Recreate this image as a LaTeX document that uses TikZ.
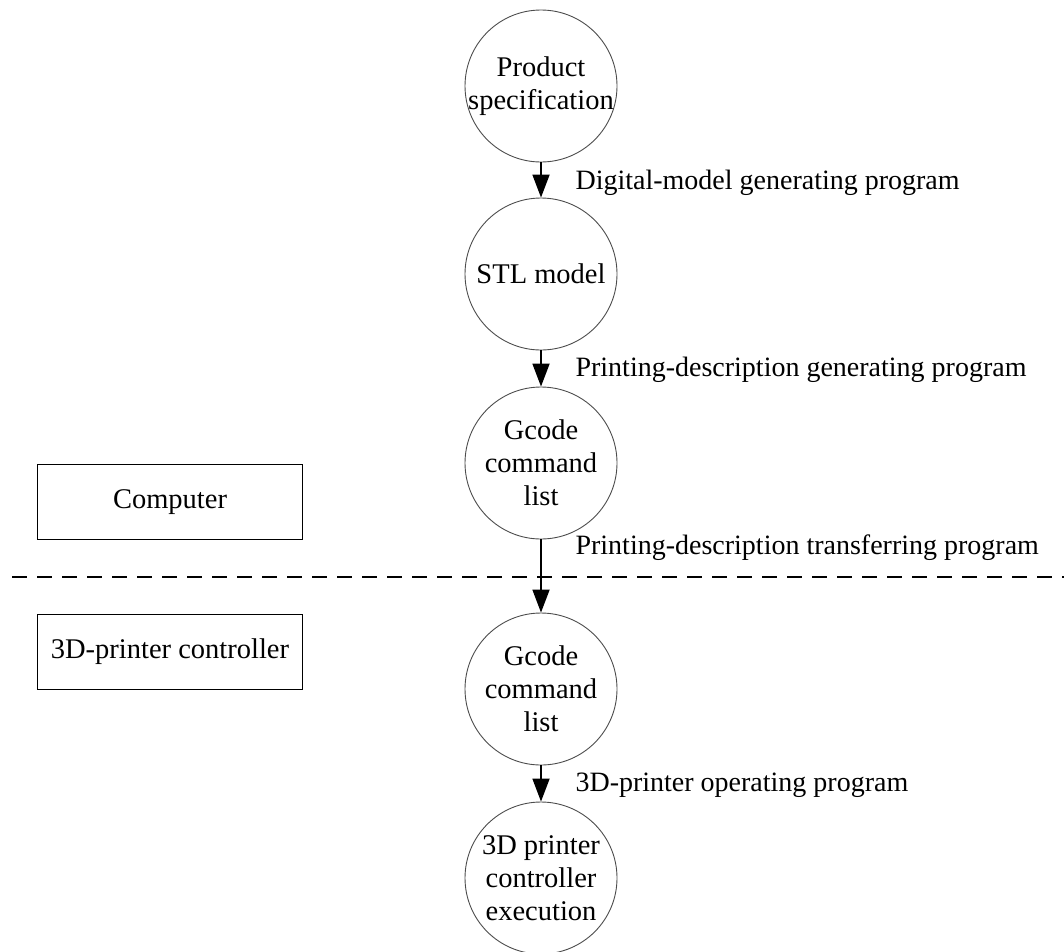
\documentclass[tikz,border=0pt]{standalone}
\usepackage{fontspec}
\setmainfont{Liberation Serif}
\usetikzlibrary{arrows.meta}
\begin{document}
\begin{tikzpicture}[x=1pt,y=-1pt,
  stage/.style={circle,draw=black!70,line width=0.9pt,minimum size=152pt,inner sep=0pt},
  stagetext/.style={align=center,inner sep=0pt,font=\fontsize{28.5}{33}\selectfont},
  sidebox/.style={rectangle,draw=black,line width=1.8pt,minimum width=265pt,minimum height=75pt,
    font=\fontsize{28.5}{33}\selectfont},
  lbl/.style={anchor=west,font=\fontsize{28}{33}\selectfont},
  flow/.style={line width=1.8pt,-{Triangle[length=23pt,width=17pt]}},
  sep/.style={line width=1.8pt,dash pattern=on 15pt off 10pt}]
\useasboundingbox (0,0) rectangle (1064,951);
\node[stage] (c1) at (541,86) {};
\node[stage] (c2) at (541,274) {};
\node[stage] (c3) at (541,463) {};
\node[stage] (c4) at (541,689) {};
\node[stage] (c5) at (541,878) {};
\node[stagetext] (t1) at (c1) {Product\\specification};
\node[stagetext] (t2) at (c2) {STL model};
\node[stagetext] (t3) at (c3) {Gcode\\command\\list};
\node[stagetext] (t4) at (c4) {Gcode\\command\\list};
\node[stagetext] (t5) at (c5) {3D printer\\controller\\execution};
\node[sidebox] (pc) at (170,502) {Computer};
\node[sidebox] (ctl) at (170,652) {3D-printer controller};
\coordinate (dl) at (12,577);
\coordinate (dr) at (1064,577);
\draw[sep] (dl) -- (dr);
\draw[flow] (c1) -- (c2);
\draw[flow] (c2) -- (c3);
\draw[flow] (c3) -- (c4);
\draw[flow] (c4) -- (c5);
\node[lbl] (l1) at (572,183) {Digital-model generating program};
\node[lbl] (l2) at (572,370) {Printing-description generating program};
\node[lbl] (l3) at (572,548) {Printing-description transferring program};
\node[lbl] (l4) at (572,785) {3D-printer operating program};
\end{tikzpicture}
\end{document}
